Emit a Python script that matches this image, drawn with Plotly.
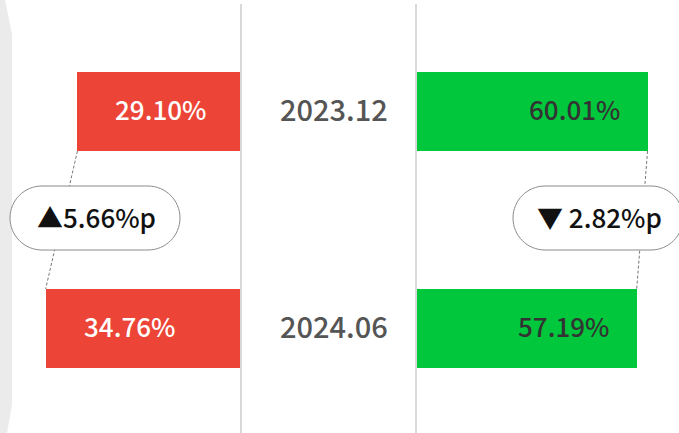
import plotly.graph_objects as go

# ---- data ----
periods = ["2023.12", "2024.06"]
red_values = [29.10, 34.76]
green_values = [60.01, 57.19]

W, H = 679, 433
FONT = "Noto Sans CJK KR"
RED = "#EC4537"
GREEN = "#00C73C"

def px(x):
    return x / W

def py(y):
    return 1 - y / H

fig = go.Figure()

bar_w = 0.364
fig.add_trace(go.Bar(y=periods, x=red_values, orientation="h", marker_color=RED,
                     marker_line_width=0, width=bar_w, xaxis="x", yaxis="y",
                     hoverinfo="skip", showlegend=False))
fig.add_trace(go.Bar(y=periods, x=green_values, orientation="h", marker_color=GREEN,
                     marker_line_width=0, width=bar_w, xaxis="x2", yaxis="y",
                     hoverinfo="skip", showlegend=False))

annotations = []
shapes = []

# bar labels (y given as category index)
for i, v in enumerate(red_values):
    annotations.append(dict(x=v, y=i, xref="x", yref="y", text=f"{v:.2f}%",
                            showarrow=False, xanchor="left", xshift=36, yanchor="middle", yshift=3,
                            font=dict(family=FONT, size=26, color="white", weight=500)))
for i, v in enumerate(green_values):
    annotations.append(dict(x=v, y=i, xref="x2", yref="y", text=f"{v:.2f}%",
                            showarrow=False, xanchor="right", xshift=-26, yanchor="middle", yshift=3,
                            font=dict(family=FONT, size=26, color="#333333", weight=500)))
# period labels
for i, p in enumerate(periods):
    annotations.append(dict(x=px(334), y=i, xref="paper", yref="y", text=p,
                            showarrow=False, xanchor="center", yanchor="middle", yshift=3,
                            font=dict(family=FONT, size=29, color="#555555", weight=500)))

# background left decoration
shapes.append(dict(type="path", xref="paper", yref="paper", layer="below",
                   path=f"M 0 {py(0)} L {px(5)} {py(0)} L {px(12)} {py(34)} L {px(12)} {py(405)} "
                        f"L {px(7)} {py(433)} L 0 {py(433)} Z",
                   fillcolor="#EBEBEB", line=dict(width=0)))

# vertical separators
for xv in (241, 416):
    shapes.append(dict(type="line", xref="paper", yref="paper", x0=px(xv), x1=px(xv),
                       y0=py(4), y1=py(433), line=dict(color="#D9D9D9", width=2)))

# dashed connectors
half = bar_w / 2
dash = "3px,2px"
shapes.append(dict(type="line", xref="x", yref="y", x0=red_values[0], y0=0 + half,
                   x1=red_values[1], y1=1 - half, line=dict(color="#777777", width=1, dash=dash)))
shapes.append(dict(type="line", xref="x2", yref="y", x0=green_values[0], y0=0 + half,
                   x1=green_values[1], y1=1 - half, line=dict(color="#777777", width=1, dash=dash)))

def pill(cx, cy, w, h):
    r = h / 2
    k = 0.5523 * r
    l, rr = cx - w / 2, cx + w / 2
    t, b = cy - r, cy + r
    pts = [
        f"M {px(l + r)} {py(t)}",
        f"L {px(rr - r)} {py(t)}",
        f"C {px(rr - r + k)} {py(t)} {px(rr)} {py(cy - k)} {px(rr)} {py(cy)}",
        f"C {px(rr)} {py(cy + k)} {px(rr - r + k)} {py(b)} {px(rr - r)} {py(b)}",
        f"L {px(l + r)} {py(b)}",
        f"C {px(l + r - k)} {py(b)} {px(l)} {py(cy + k)} {px(l)} {py(cy)}",
        f"C {px(l)} {py(cy - k)} {px(l + r - k)} {py(t)} {px(l + r)} {py(t)}",
        "Z",
    ]
    return dict(type="path", xref="paper", yref="paper", path=" ".join(pts),
                fillcolor="white", line=dict(color="#8A8A8A", width=1))

red_delta = red_values[1] - red_values[0]
green_delta = green_values[1] - green_values[0]
shapes.append(pill(95, 218, 170, 64))
shapes.append(pill(598, 218, 170, 64))
annotations.append(dict(x=px(96), y=py(216), xref="paper", yref="paper",
                        xanchor="center", yanchor="middle",
                        text=("▲" if red_delta >= 0 else "▼") + f"{abs(red_delta):.2f}%p",
                        showarrow=False, font=dict(family=FONT, size=26, color="#111111", weight=500)))
annotations.append(dict(x=px(599), y=py(216), xref="paper", yref="paper",
                        xanchor="center", yanchor="middle",
                        text=("▲" if green_delta >= 0 else "▼") + f" {abs(green_delta):.2f}%p",
                        showarrow=False, font=dict(family=FONT, size=26, color="#111111", weight=500)))

fig.update_layout(
    width=W, height=H, margin=dict(l=0, r=0, t=0, b=0),
    paper_bgcolor="white", plot_bgcolor="rgba(0,0,0,0)",
    xaxis=dict(domain=[0, px(241)], range=[42.88, 0], visible=False, fixedrange=True),
    xaxis2=dict(domain=[px(417), 1], range=[0, 68.2], visible=False, fixedrange=True),
    yaxis=dict(domain=[0, 1], type="category", categoryarray=periods,
               range=[1.4816, -0.5138], visible=False, fixedrange=True),
    annotations=annotations, shapes=shapes, bargap=0,
)

fig.write_html("out.html", config={"displayModeBar": False},
               post_script="document.body.style.margin='0';document.body.style.padding='0';")
